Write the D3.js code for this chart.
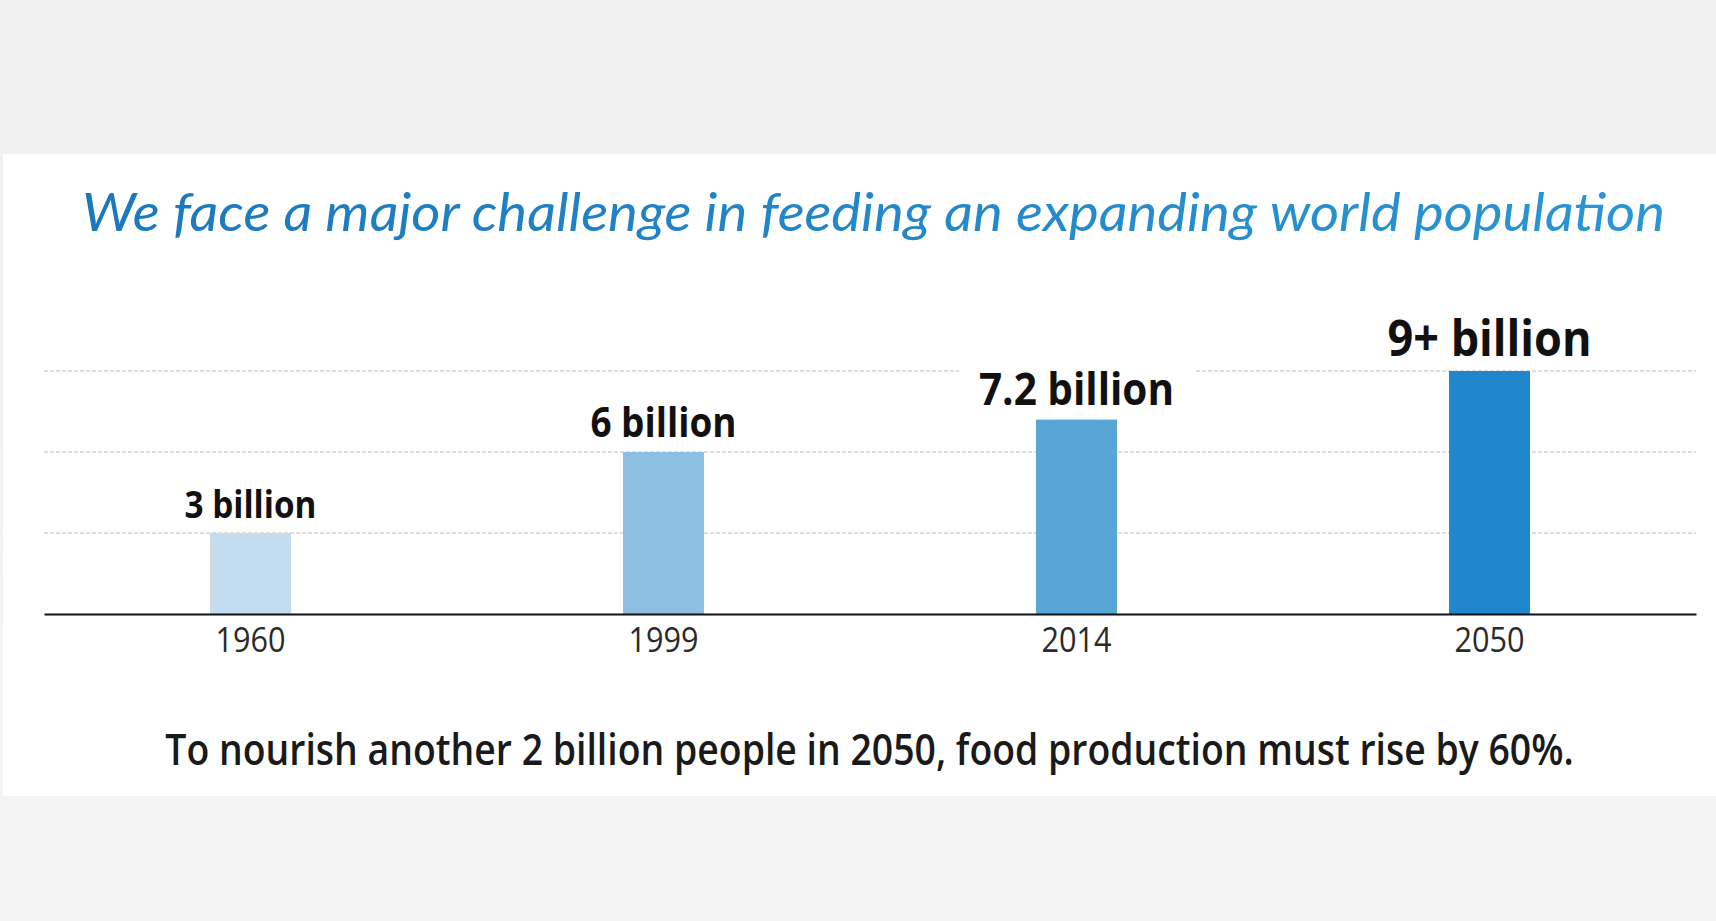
<!DOCTYPE html>
<html>
<head>
<meta charset="utf-8">
<script src="https://cdn.jsdelivr.net/npm/d3@7"></script>
<style>
  html, body { margin: 0; padding: 0; background: #f1f1f1; }
  svg { display: block; }
</style>
</head>
<body>
<svg id="chart" width="1716" height="921"></svg>
<script>
// --- DATA ---
const years = ["1960", "1999", "2014", "2050"];
const population = [3, 6, 7.2, 9];            // billions
const valueLabels = ["3 billion", "6 billion", "7.2 billion", "9+ billion"];
const gridValues = [3, 6, 9];
const title = "We face a major challenge in feeding an expanding world population";
const note = "To nourish another 2 billion people in 2050, food production must rise by 60%.";

// styles (kept apart from the data)
const barColors = ["#c4dcef", "#8cbfe2", "#58a6d5", "#2087cc"];
const labelSizes = [37, 41, 45, 50];

const svg = d3.select("#chart");
const W = 1716, H = 921;

// background gradient + white panel
const defs = svg.append("defs");
const bg = defs.append("linearGradient").attr("id", "bg").attr("x1", 0).attr("x2", 0).attr("y1", 0).attr("y2", 1);
bg.append("stop").attr("offset", "0%").attr("stop-color", "#f0f0f0");
bg.append("stop").attr("offset", "100%").attr("stop-color", "#f4f4f4");
const tg = defs.append("linearGradient").attr("id", "tg");
tg.append("stop").attr("offset", "0%").attr("stop-color", "#1b78bd");
tg.append("stop").attr("offset", "100%").attr("stop-color", "#2a96d4");

svg.append("rect").attr("width", W).attr("height", H).attr("fill", "url(#bg)");
svg.append("rect").attr("x", 3).attr("y", 154).attr("width", W - 3).attr("height", 642).attr("fill", "#ffffff");

// --- TITLE ---
svg.append("text")
  .attr("x", 82).attr("y", 231)
  .attr("textLength", 1583).attr("lengthAdjust", "spacingAndGlyphs")
  .style("font-family", "Lato, 'Open Sans', sans-serif")
  .style("font-style", "italic")
  .style("font-size", "52px")
  .attr("fill", "url(#tg)")
  .text(title);

// --- SCALES ---
const x = d3.scaleBand()
  .domain(years)
  .range([44, 1696])
  .paddingInner(0.804)
  .paddingOuter(0.402);

const y = d3.scaleLinear()
  .domain([0, 9])
  .range([614, 371]);

// --- GRID ---
svg.append("g")
  .selectAll("line")
  .data(gridValues)
  .enter()
  .append("line")
  .attr("x1", 44).attr("x2", 1696)
  .attr("y1", d => y(d)).attr("y2", d => y(d))
  .attr("stroke", "#bdbdbd")
  .attr("stroke-width", 1.2)
  .attr("stroke-dasharray", "4,2");

// --- VALUE LABELS ---
const labelLayer = svg.append("g");
const labels = labelLayer
  .selectAll("text")
  .data(years)
  .enter()
  .append("text")
  .attr("x", d => x(d) + x.bandwidth() / 2)
  .attr("y", (d, i) => y(population[i]) - 15)
  .attr("text-anchor", "middle")
  .style("font-family", "'Open Sans', sans-serif")
  .style("font-weight", "bold")
  .style("font-size", (d, i) => labelSizes[i] + "px")
  .attr("fill", "#111")
  .text((d, i) => valueLabels[i]);

labels.each(function() {
  const len = this.getComputedTextLength();
  d3.select(this).attr("textLength", len * 0.9).attr("lengthAdjust", "spacingAndGlyphs");
});

// white boxes behind labels so the dashed lines stop at them
labels.each(function() {
  const b = this.getBBox();
  labelLayer.insert("rect", "text")
    .attr("x", b.x - 20).attr("y", b.y + 6)
    .attr("width", b.width + 40).attr("height", b.height - 12)
    .attr("fill", "#ffffff");
});

// --- BARS ---
svg.append("g")
  .selectAll("rect")
  .data(years)
  .enter()
  .append("rect")
  .attr("x", d => x(d))
  .attr("y", (d, i) => y(population[i]))
  .attr("width", x.bandwidth())
  .attr("height", (d, i) => y(0) - y(population[i]))
  .attr("fill", (d, i) => barColors[i]);

// --- X AXIS ---
const xAxis = svg.append("g")
  .attr("transform", `translate(0,${y(0)})`)
  .call(d3.axisBottom(x).tickSize(0).tickPadding(14));
xAxis.select(".domain").attr("stroke", "#111").attr("stroke-width", 2.2);
xAxis.selectAll("text")
  .style("font-family", "'Open Sans', sans-serif")
  .style("font-size", "34px")
  .attr("fill", "#2a2a2a")
  .attr("dy", "0.71em")
  .each(function() {
    const len = this.getComputedTextLength();
    d3.select(this).attr("textLength", len * 0.9).attr("lengthAdjust", "spacingAndGlyphs");
  });

// --- NOTE (condensed via horizontal scale) ---
const noteG = svg.append("g");
const noteText = noteG.append("text")
  .attr("x", 0).attr("y", 0)
  .attr("text-anchor", "middle")
  .style("font-family", "'Open Sans', sans-serif")
  .style("font-weight", 600)
  .style("font-size", "43px")
  .attr("fill", "#1a1a1a")
  .text(note);
const noteScale = 1409 / noteText.node().getComputedTextLength();
noteG.attr("transform", `translate(869.5,765) scale(${noteScale},1)`);
</script>
</body>
</html>
